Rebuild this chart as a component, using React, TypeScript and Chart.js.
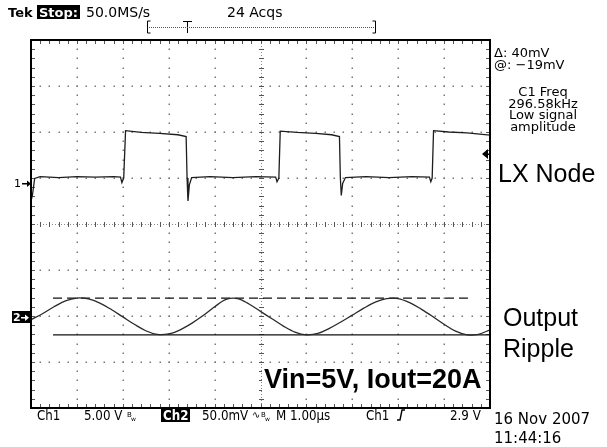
import React, { useEffect, useRef } from "react";
import { Chart, registerables } from "chart.js";

Chart.register(...registerables);

// Time axis in divisions (1 div = 1.00 µs), amplitude in divisions
const ch1Time = [0.0, 0.03, 0.08, 0.2, 0.6, 1.0, 1.4, 1.8, 1.95, 1.98, 2.02, 2.06, 2.4, 2.8, 3.2, 3.38, 3.4, 3.42, 3.45, 3.5, 3.9, 4.4, 4.9, 5.33, 5.36, 5.4, 5.43, 5.8, 6.2, 6.55, 6.72, 6.74, 6.76, 6.79, 6.85, 7.3, 7.8, 8.3, 8.68, 8.71, 8.74, 8.77, 9.1, 9.5, 10.0];
const ch1Level = [0.5, 0.62, 0.99, 1.03, 1.01, 1.03, 1.02, 1.03, 1.02, 0.9, 1.0, 2.03, 1.99, 1.97, 1.94, 1.9, 1.0, 0.5, 0.85, 1.01, 1.03, 1.01, 1.03, 1.02, 0.92, 1.0, 2.02, 1.99, 1.97, 1.94, 1.9, 1.0, 0.62, 0.88, 1.01, 1.03, 1.01, 1.03, 1.02, 0.92, 1.0, 2.03, 2.0, 1.98, 1.93];

const ch2Time = [0.0, 0.25, 0.5, 0.75, 1.0, 1.25, 1.5, 1.75, 2.0, 2.25, 2.5, 2.75, 3.0, 3.25, 3.5, 3.75, 4.0, 4.25, 4.5, 4.75, 5.0, 5.25, 5.5, 5.75, 6.0, 6.25, 6.5, 6.75, 7.0, 7.25, 7.5, 7.75, 8.0, 8.25, 8.5, 8.75, 9.0, 9.25, 9.5, 9.75, 10.0];
const ch2Level = [-2.08, -1.95, -1.8, -1.67, -1.61, -1.63, -1.72, -1.86, -2.02, -2.18, -2.32, -2.4, -2.39, -2.3, -2.16, -1.99, -1.8, -1.64, -1.62, -1.74, -1.9, -2.06, -2.22, -2.35, -2.41, -2.38, -2.27, -2.13, -1.98, -1.83, -1.7, -1.62, -1.62, -1.71, -1.85, -2.01, -2.18, -2.33, -2.41, -2.4, -2.3];

const cursorLevels = [-1.61, -2.41];
const cursorStart = 0.48;
const dashedEnd = 9.52;
const solidEnd = 10;

const ch1Ground = 0.9;
const ch2Ground = -2.02;
const triggerLevel = 1.52;

const topLabels = ["Tek", "Stop:", "50.0MS/s", "24 Acqs"];
const readouts = ["\u0394: 40mV", "@: \u221219mV"];
const measureLines = ["C1 Freq", "296.58kHz", "Low signal", "amplitude"];
const annotations = ["LX Node", "Output", "Ripple", "Vin=5V, Iout=20A"];

const SANS = '"DejaVu Sans", sans-serif';
const ARIAL = '"Liberation Sans", Arial, sans-serif';

function txt(ctx: CanvasRenderingContext2D, s: string, x: number, y: number, font: string, color = "#000", sx = 1, align: CanvasTextAlign = "left") {
  ctx.save();
  ctx.font = font;
  ctx.fillStyle = color;
  ctx.textAlign = align;
  ctx.textBaseline = "alphabetic";
  ctx.translate(x, y);
  ctx.scale(sx, 1);
  ctx.fillText(s, 0, 0);
  ctx.restore();
}

const graticule = {
  id: "graticule",
  beforeDatasetsDraw(chart: any) {
    const { ctx, chartArea: a, scales } = chart;
    const xs = scales.x;
    const ys = scales.y;
    ctx.save();
    ctx.fillStyle = "#7a7a7a";
    for (let i = 1; i < 10; i++) {
      if (i === 5) continue;
      const px = Math.round(xs.getPixelForValue(i));
      for (let k = 0; k <= 40; k++) {
        const py = Math.round(ys.getPixelForValue(-4 + k * 0.2));
        ctx.fillRect(px - 0.5, py - 0.5, 1.5, 1.5);
      }
    }
    for (let j = -3; j <= 3; j++) {
      if (j === 0) continue;
      const py = Math.round(ys.getPixelForValue(j));
      for (let k = 0; k <= 50; k++) {
        const px = Math.round(xs.getPixelForValue(k * 0.2));
        ctx.fillRect(px - 0.5, py - 0.5, 1.5, 1.5);
      }
    }
    const cx = Math.round(xs.getPixelForValue(5));
    const cy = Math.round(ys.getPixelForValue(0));
    ctx.fillStyle = "#8a8a8a";
    for (let px = a.left; px <= a.right; px += 3) ctx.fillRect(px, cy, 1, 1);
    for (let py = a.top; py <= a.bottom; py += 3) ctx.fillRect(cx, py, 1, 1);
    ctx.fillStyle = "#555";
    for (let k = 0; k <= 50; k++) {
      const px = Math.round(xs.getPixelForValue(k * 0.2));
      ctx.fillRect(px, cy - 2, 1, 5);
      ctx.fillRect(px, a.top, 1, 4);
      ctx.fillRect(px, a.bottom - 4, 1, 4);
    }
    for (let k = 0; k <= 40; k++) {
      const py = Math.round(ys.getPixelForValue(-4 + k * 0.2));
      ctx.fillRect(cx - 2, py, 5, 1);
      ctx.fillRect(a.left, py, 4, 1);
      ctx.fillRect(a.right - 4, py, 4, 1);
    }
    ctx.restore();
  },
  afterDraw(chart: any) {
    const { ctx, chartArea: a, scales } = chart;
    const ys = scales.y;
    ctx.save();
    ctx.strokeStyle = "#000";
    ctx.lineWidth = 2;
    ctx.strokeRect(a.left, a.top, a.right - a.left, a.bottom - a.top);

    // top line
    txt(ctx, topLabels[0], 8, 17, `bold 13px ${SANS}`);
    ctx.fillStyle = "#000";
    ctx.fillRect(37, 5, 43, 14);
    txt(ctx, topLabels[1], 39, 17, `bold 13px ${SANS}`, "#fff");
    txt(ctx, topLabels[2], 86, 17, `14px ${SANS}`);
    txt(ctx, topLabels[3], 227, 17, `14px ${SANS}`);
    ctx.strokeStyle = "#000";
    ctx.lineWidth = 1;
    ctx.beginPath();
    ctx.moveTo(150.5, 21); ctx.lineTo(147.5, 21); ctx.lineTo(147.5, 33); ctx.lineTo(150.5, 33);
    ctx.moveTo(372.5, 21); ctx.lineTo(375.5, 21); ctx.lineTo(375.5, 33); ctx.lineTo(372.5, 33);
    ctx.moveTo(183, 21.5); ctx.lineTo(192, 21.5);
    ctx.moveTo(187.5, 21); ctx.lineTo(187.5, 33);
    ctx.stroke();
    ctx.fillStyle = "#555";
    for (let px = 149; px < 375; px += 2) ctx.fillRect(px, 27, 1, 1);

    // right readouts
    txt(ctx, readouts[0], 494, 57, `13px ${SANS}`);
    txt(ctx, readouts[1], 494, 69, `13px ${SANS}`);
    measureLines.forEach((s, i) => txt(ctx, s, 543, 96 + i * 11.5, `13px ${SANS}`, "#000", 1, "center"));

    // channel markers
    const y1 = Math.round(ys.getPixelForValue(ch1Ground));
    txt(ctx, "1", 14, y1 + 4, `11px ${SANS}`);
    ctx.fillStyle = "#000";
    ctx.fillRect(22, y1, 6, 1.5);
    ctx.beginPath(); ctx.moveTo(31, y1 + 0.7); ctx.lineTo(27, y1 - 2.5); ctx.lineTo(27, y1 + 4); ctx.closePath(); ctx.fill();

    const y2 = Math.round(ys.getPixelForValue(ch2Ground));
    ctx.fillStyle = "#000";
    ctx.fillRect(12, y2 - 6, 19, 12);
    txt(ctx, "2", 13, y2 + 4, `bold 11px ${SANS}`, "#fff");
    ctx.fillStyle = "#fff";
    ctx.fillRect(21, y2, 5, 1.5);
    ctx.beginPath(); ctx.moveTo(29, y2 + 0.7); ctx.lineTo(25, y2 - 2.5); ctx.lineTo(25, y2 + 4); ctx.closePath(); ctx.fill();

    // trigger level arrow
    const yt = Math.round(ys.getPixelForValue(triggerLevel));
    ctx.fillStyle = "#000";
    ctx.beginPath(); ctx.moveTo(482, yt); ctx.lineTo(488, yt - 5); ctx.lineTo(488, yt + 5); ctx.closePath(); ctx.fill();
    ctx.fillRect(487, yt - 0.5, 4, 1.5);

    // annotations
    txt(ctx, annotations[0], 498, 182, `25px ${ARIAL}`);
    txt(ctx, annotations[1], 503, 326, `25px ${ARIAL}`);
    txt(ctx, annotations[2], 503, 357, `25px ${ARIAL}`);
    ctx.font = `bold 27px ${ARIAL}`;
    const w = ctx.measureText(annotations[3]).width;
    ctx.fillStyle = "#fff";
    ctx.fillRect(262, 366, w + 6, 25);
    txt(ctx, annotations[3], 264, 388, `bold 27px ${ARIAL}`);

    // bottom status line
    const f = `14px ${SANS}`;
    const sx = 0.85;
    txt(ctx, "Ch1", 37, 420, f, "#000", sx);
    txt(ctx, "5.00 V", 84, 420, f, "#000", sx);
    txt(ctx, "B", 127, 417, `7px ${SANS}`);
    txt(ctx, "w", 131, 421, `6px ${SANS}`);
    ctx.fillStyle = "#000";
    ctx.fillRect(161, 408, 29, 14);
    txt(ctx, "Ch2", 163, 420, `bold 14px ${SANS}`, "#fff", sx);
    txt(ctx, "50.0mV", 202, 420, f, "#000", sx);
    txt(ctx, "\u223F", 252, 418, `10px ${SANS}`);
    txt(ctx, "B", 261, 417, `7px ${SANS}`);
    txt(ctx, "w", 265, 421, `6px ${SANS}`);
    txt(ctx, "M 1.00\u00B5s", 276, 420, f, "#000", sx);
    txt(ctx, "Ch1", 366, 420, f, "#000", sx);
    ctx.strokeStyle = "#000";
    ctx.lineWidth = 1.4;
    ctx.beginPath();
    ctx.moveTo(397, 420); ctx.lineTo(400, 420); ctx.lineTo(402, 410); ctx.lineTo(405, 410);
    ctx.stroke();
    txt(ctx, "2.9 V", 450, 420, f, "#000", sx);
    txt(ctx, "16 Nov 2007", 494, 424, `15px ${SANS}`);
    txt(ctx, "11:44:16", 494, 443, `15px ${SANS}`);
    ctx.restore();
  },
};

export default function App() {
  const ref = useRef<HTMLCanvasElement | null>(null);
  useEffect(() => {
    if (!ref.current) return;
    const chart = new Chart(ref.current, {
      type: "scatter",
      data: {
        datasets: [
          {
            data: ch1Time.map((t, i) => ({ x: t, y: ch1Level[i] })),
            showLine: true, borderColor: "#1e1e1e", borderWidth: 1.3, pointRadius: 0, tension: 0,
          },
          {
            data: ch2Time.map((t, i) => ({ x: t, y: ch2Level[i] })),
            showLine: true, borderColor: "#2a2a2a", borderWidth: 1.3, pointRadius: 0, tension: 0.35,
          },
          {
            data: [{ x: cursorStart, y: cursorLevels[0] }, { x: dashedEnd, y: cursorLevels[0] }],
            showLine: true, borderColor: "#111", borderWidth: 1.2, pointRadius: 0, borderDash: [9, 5],
          },
          {
            data: [{ x: cursorStart, y: cursorLevels[1] }, { x: solidEnd, y: cursorLevels[1] }],
            showLine: true, borderColor: "#111", borderWidth: 1.2, pointRadius: 0,
          },
        ],
      },
      options: {
        responsive: false,
        animation: false,
        devicePixelRatio: 1,
        events: [],
        layout: { padding: { left: 31, top: 40, right: 117, bottom: 39 } },
        plugins: { legend: { display: false }, tooltip: { enabled: false }, title: { display: false } },
        scales: {
          x: { type: "linear", min: 0, max: 10, display: false },
          y: { type: "linear", min: -4, max: 4, display: false },
        },
      },
      plugins: [graticule],
    });
    return () => chart.destroy();
  }, []);
  return (
    <div style={{ position: "fixed", left: 0, top: 0, width: 607, height: 447, background: "#fff" }}>
      <canvas ref={ref} width={607} height={447} style={{ display: "block" }} />
    </div>
  );
}
